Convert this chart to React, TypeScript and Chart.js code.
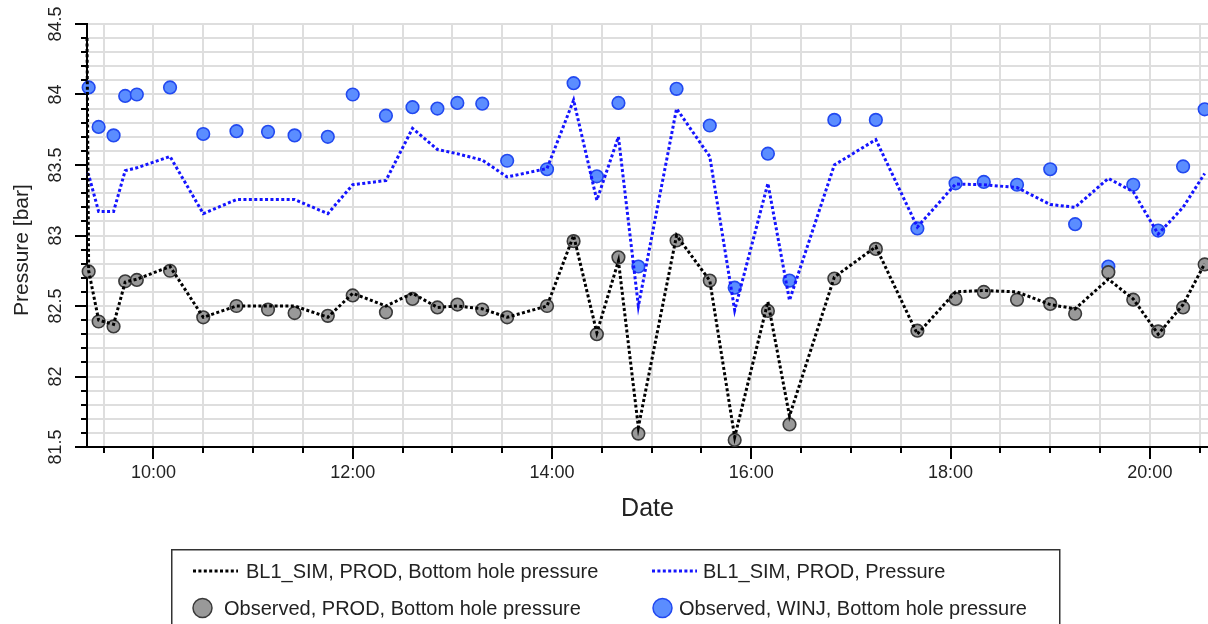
import { useEffect, useRef } from 'react';
import { Chart, registerables } from 'chart.js';

Chart.register(...registerables);

// ---- data ----
const obsTimes = [
  '09:21', '09:27', '09:36', '09:43', '09:50', '10:10', '10:30', '10:50', '11:09', '11:25',
  '11:45', '12:00', '12:20', '12:36', '12:51', '13:03', '13:18', '13:33', '13:57', '14:13',
  '14:27', '14:40', '14:52', '15:15', '15:35', '15:50', '16:10', '16:23', '16:50', '17:15',
  '17:40', '18:03', '18:20', '18:40', '19:00', '19:15', '19:35', '19:50', '20:05', '20:20',
  '20:33',
];

const winjObserved = [
  84.05, 83.77, 83.71, 83.99, 84.0, 84.05, 83.72, 83.74, 83.735, 83.71,
  83.7, 84.0, 83.85, 83.91, 83.9, 83.94, 83.935, 83.53, 83.47, 84.08,
  83.42, 83.94, 82.78, 84.04, 83.78, 82.63, 83.58, 82.68, 83.82, 83.82,
  83.05, 83.37, 83.38, 83.36, 83.47, 83.08, 82.78, 83.36, 83.035, 83.49,
  83.895,
];

const prodObserved = [
  82.745, 82.39, 82.355, 82.675, 82.685, 82.75, 82.42, 82.5, 82.475, 82.45,
  82.43, 82.575, 82.455, 82.55, 82.49, 82.51, 82.475, 82.42, 82.5, 82.96,
  82.3, 82.845, 81.595, 82.965, 82.68, 81.55, 82.465, 81.66, 82.695, 82.905,
  82.325, 82.55, 82.6, 82.545, 82.515, 82.445, 82.74, 82.545, 82.32, 82.49,
  82.795,
];

const simTimes = [
  '09:20', '09:21', '09:27', '09:36', '09:43', '09:50', '10:10', '10:30', '10:50', '11:09', '11:25',
  '11:45', '12:00', '12:20', '12:36', '12:51', '13:03', '13:18', '13:33', '13:57', '14:13',
  '14:27', '14:40', '14:52', '15:15', '15:35', '15:50', '16:10', '16:23', '16:50', '17:15',
  '17:40', '18:03', '18:20', '18:40', '19:00', '19:15', '19:35', '19:50', '20:05', '20:20',
  '20:33',
];

const prodSimBhp = [
  84.4, 82.75, 82.4, 82.37, 82.67, 82.69, 82.78, 82.42, 82.5, 82.5, 82.5,
  82.42, 82.59, 82.5, 82.59, 82.49, 82.5, 82.48, 82.42, 82.5, 83.0,
  82.31, 82.82, 81.64, 83.0, 82.68, 81.57, 82.53, 81.72, 82.705, 82.92,
  82.3, 82.6, 82.61, 82.6, 82.51, 82.48, 82.69, 82.55, 82.3, 82.51,
  82.8,
];

const prodSimPressure = [
  83.44, 83.43, 83.17, 83.17, 83.46, 83.48, 83.56, 83.155, 83.255, 83.255, 83.255,
  83.155, 83.36, 83.39, 83.76, 83.61, 83.58, 83.535, 83.415, 83.475, 83.96,
  83.25, 83.7, 82.5, 83.9, 83.56, 82.47, 83.37, 82.54, 83.5, 83.68,
  83.06, 83.365, 83.36, 83.34, 83.22, 83.2, 83.405, 83.31, 83.01, 83.2,
  83.44,
];

const seriesLabels = [
  'BL1_SIM, PROD, Bottom hole pressure',
  'BL1_SIM, PROD, Pressure',
  'Observed, PROD, Bottom hole pressure',
  'Observed, WINJ, Bottom hole pressure',
];

const xAxisStart = '09:20';
const xAxisEnd = '20:35';
const yMin = 81.5;
const yMax = 84.5;

// ---- helpers ----
const toMin = (s: string) => {
  const [h, m] = s.split(':').map(Number);
  return h * 60 + m;
};
const isMajorX = (v: number) => Math.round(v) % 120 === 0;
const isMajorY = (v: number) => Math.round(v * 10) % 5 === 0;
const fmtTime = (v: number) => {
  const h = Math.floor(v / 60);
  const m = Math.round(v % 60);
  return `${h}:${String(m).padStart(2, '0')}`;
};

const FONT = "'Liberation Sans', Arial, sans-serif";
const TEXT = '#222222';
const GRID = '#dedede';
const DASH = [3, 2.4];

const legendPlugin = {
  id: 'decorAndLegend',
  afterDraw(chart: any) {
    const ctx = chart.ctx as CanvasRenderingContext2D;
    const { left, bottom } = chart.chartArea;
    const xs = chart.scales.x;
    const ys = chart.scales.y;
    ctx.save();
    // minor tick marks
    ctx.strokeStyle = '#000';
    ctx.lineWidth = 2;
    ctx.setLineDash([]);
    xs.ticks.forEach((t: any) => {
      if (!isMajorX(t.value)) {
        const px = Math.round(xs.getPixelForValue(t.value));
        ctx.beginPath();
        ctx.moveTo(px, bottom);
        ctx.lineTo(px, bottom + 6);
        ctx.stroke();
      }
    });
    ys.ticks.forEach((t: any) => {
      if (!isMajorY(t.value)) {
        const py = Math.round(ys.getPixelForValue(t.value));
        ctx.beginPath();
        ctx.moveTo(left - 6, py);
        ctx.lineTo(left, py);
        ctx.stroke();
      }
    });

    // legend box
    ctx.lineWidth = 1.5;
    ctx.strokeStyle = '#333';
    ctx.strokeRect(171.75, 549.75, 888, 100);

    const ds = chart.data.datasets;
    const items = [
      { i: 0, x: 193, y: 571, tx: 246 },
      { i: 1, x: 652, y: 571, tx: 703 },
      { i: 2, x: 193, y: 608, tx: 224 },
      { i: 3, x: 653, y: 608, tx: 679 },
    ];
    ctx.font = `20px ${FONT}`;
    ctx.textBaseline = 'middle';
    ctx.textAlign = 'left';
    items.forEach((it) => {
      const d = ds[it.i];
      if (d.showLine) {
        ctx.strokeStyle = d.borderColor;
        ctx.lineWidth = d.borderWidth;
        ctx.setLineDash(DASH);
        ctx.beginPath();
        ctx.moveTo(it.x, it.y);
        ctx.lineTo(it.x + 45, it.y);
        ctx.stroke();
        ctx.setLineDash([]);
      } else {
        ctx.beginPath();
        ctx.arc(it.x + 9.5, it.y, 9.5, 0, Math.PI * 2);
        ctx.fillStyle = d.backgroundColor;
        ctx.fill();
        ctx.lineWidth = 1.5;
        ctx.strokeStyle = d.borderColor;
        ctx.stroke();
      }
      ctx.fillStyle = TEXT;
      ctx.fillText(d.label, it.tx, it.y + 1);
    });
    ctx.restore();
  },
};

export default function App() {
  const ref = useRef<HTMLCanvasElement>(null);

  useEffect(() => {
    const simPts = (vals: number[]) => simTimes.map((t, i) => ({ x: toMin(t), y: vals[i] }));
    const obsPts = (vals: number[]) => obsTimes.map((t, i) => ({ x: toMin(t), y: vals[i] }));

    const chart = new Chart(ref.current as HTMLCanvasElement, {
      type: 'scatter',
      data: {
        datasets: [
          {
            label: seriesLabels[0],
            data: simPts(prodSimBhp),
            showLine: true,
            borderColor: '#000000',
            borderWidth: 3,
            borderDash: DASH,
            pointRadius: 0,
            tension: 0,
            clip: false,
          },
          {
            label: seriesLabels[1],
            data: simPts(prodSimPressure),
            showLine: true,
            borderColor: '#1414ff',
            borderWidth: 3,
            borderDash: DASH,
            pointRadius: 0,
            tension: 0,
            clip: false,
          },
          {
            label: seriesLabels[2],
            data: obsPts(prodObserved),
            showLine: false,
            backgroundColor: '#999999',
            borderColor: '#3a3a3a',
            borderWidth: 1.6,
            pointRadius: 6.3,
            clip: false,
          },
          {
            label: seriesLabels[3],
            data: obsPts(winjObserved),
            showLine: false,
            backgroundColor: '#5b8dff',
            borderColor: '#2249f0',
            borderWidth: 1.6,
            pointRadius: 6.3,
            clip: false,
          },
        ] as any,
      },
      options: {
        animation: false,
        responsive: true,
        maintainAspectRatio: false,
        events: [],
        layout: { autoPadding: false, padding: { top: 24, left: 0, right: 0, bottom: 0 } },
        plugins: {
          legend: { display: false },
          tooltip: { enabled: false },
        },
        scales: {
          x: {
            type: 'linear',
            min: toMin(xAxisStart),
            max: toMin(xAxisEnd),
            afterFit: (s: any) => {
              s.height = 177;
              s.paddingLeft = 0;
              s.paddingRight = 0;
            },
            border: { display: true, color: '#000', width: 2 },
            grid: {
              color: GRID,
              lineWidth: 2,
              tickLength: 12,
              tickWidth: 2,
              tickColor: (c: any) => (c.tick && isMajorX(c.tick.value) ? '#000' : 'rgba(0,0,0,0)'),
            },
            ticks: {
              stepSize: 30,
              includeBounds: false,
              autoSkip: false,
              maxRotation: 0,
              minRotation: 0,
              maxTicksLimit: 1000,
              padding: 3,
              color: TEXT,
              font: { family: FONT, size: 18 },
              callback: (v: any) => (isMajorX(Number(v)) ? fmtTime(Number(v)) : ''),
            },
            title: {
              display: true,
              text: 'Date',
              color: TEXT,
              font: { family: FONT, size: 25 },
              padding: { top: 0, bottom: 100 },
            },
          },
          y: {
            type: 'linear',
            min: yMin,
            max: yMax,
            afterFit: (s: any) => {
              s.width = 87;
              s.paddingTop = 0;
              s.paddingBottom = 0;
            },
            border: { display: true, color: '#000', width: 2 },
            grid: {
              color: GRID,
              lineWidth: 2,
              tickLength: 12,
              tickWidth: 2,
              tickColor: (c: any) => (c.tick && isMajorY(c.tick.value) ? '#000' : 'rgba(0,0,0,0)'),
            },
            ticks: {
              stepSize: 0.1,
              autoSkip: false,
              minRotation: 90,
              maxRotation: 90,
              crossAlign: 'center',
              maxTicksLimit: 1000,
              padding: 1.5,
              color: TEXT,
              font: { family: FONT, size: 18 },
              callback: (v: any) =>
                isMajorY(Number(v)) ? String(Math.round(Number(v) * 10) / 10) : '',
            },
            title: {
              display: true,
              text: 'Pressure [bar]     ',
              color: TEXT,
              font: { family: FONT, size: 21 },
              padding: { top: 9.4, bottom: 0 },
            },
          },
        },
      } as any,
      plugins: [legendPlugin],
    });
    return () => chart.destroy();
  }, []);

  return (
    <div
      style={{
        position: 'absolute',
        left: 0,
        top: 0,
        width: 1208,
        height: 624,
        background: '#ffffff',
      }}
    >
      <canvas ref={ref} />
    </div>
  );
}
